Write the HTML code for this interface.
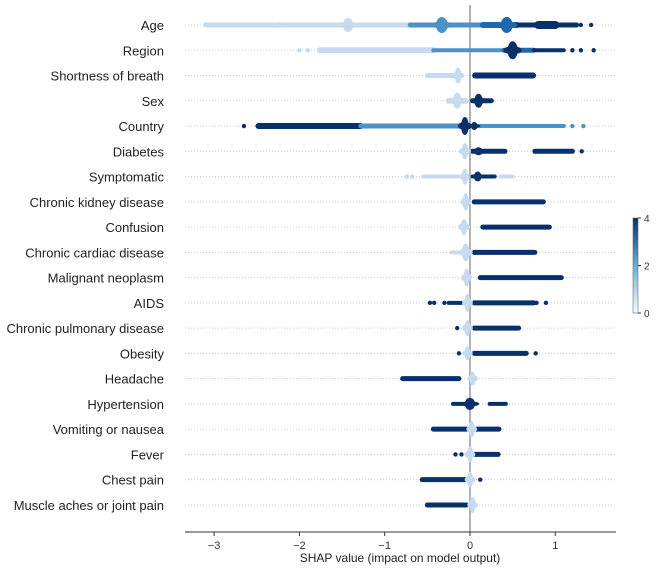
<!DOCTYPE html>
<html><head><meta charset="utf-8"><style>
body{margin:0;background:#fff}
svg{display:block;font-family:"Liberation Sans",sans-serif}
</style></head><body>
<svg id="chart" width="660" height="568" viewBox="0 0 660 568"></svg>
<script>
const features=["Age","Region","Shortness of breath","Sex","Country","Diabetes","Symptomatic","Chronic kidney disease","Confusion","Chronic cardiac disease","Malignant neoplasm","AIDS","Chronic pulmonary disease","Obesity","Headache","Hypertension","Vomiting or nausea","Fever","Chest pain","Muscle aches or joint pain"];
// segments per feature: [start, end, colorIdx, halfThickness]
const segments=[
 [[-3.1,-0.7,0,2.5],[-0.7,0.15,2,2.5],[0.15,0.55,3,3],[0.55,1.25,4,2.5],[0.8,1.0,4,4]],
 [[-1.76,-0.43,0,3],[-0.43,0.41,2,2],[0.4,0.75,3,2.5],[0.75,1.1,4,2]],
 [[-0.5,-0.1,0,2.5],[0.06,0.74,4,3]],
 [[-0.25,-0.05,0,3],[0.03,0.25,4,2.5]],
 [[-2.48,-1.28,4,3],[-1.28,-0.1,2,2.5],[0.05,1.1,2,2]],
 [[0.03,0.41,4,2.5],[0.76,1.2,4,2.5]],
 [[-0.55,-0.06,0,2],[0.03,0.29,4,2],[0.36,0.5,0,2]],
 [[0.05,0.86,4,2.5]],
 [[0.15,0.93,4,2.5]],
 [[-0.22,0,0,2],[0.05,0.76,4,2.5]],
 [[0.12,1.07,4,2.5]],
 [[-0.25,-0.1,4,2],[0.05,0.75,4,2.5]],
 [[0.05,0.57,4,2.5]],
 [[0.05,0.66,4,2.5]],
 [[-0.79,-0.13,4,2.5]],
 [[-0.2,-0.05,4,2],[0.23,0.42,4,2]],
 [[-0.43,-0.04,4,2.5],[0.06,0.34,4,2.5]],
 [[0.05,0.33,4,2.5]],
 [[-0.56,-0.06,4,2.5]],
 [[-0.5,-0.04,4,2.5]]
];
// blobs per feature: [center, halfHeight, halfWidthShap, colorIdx]
const blobs=[
 [[-2.23,3,0.04,0],[-1.43,7,0.06,0],[-0.33,8,0.07,2],[0.43,8,0.07,3]],
 [[0.5,9,0.06,4]],
 [[-0.14,8,0.04,0]],
 [[-0.15,8,0.05,0],[0.1,7,0.05,4]],
 [[-0.06,9,0.045,4],[0.05,4,0.04,4]],
 [[-0.06,8,0.04,0],[0.1,4,0.05,4]],
 [[-0.06,8,0.035,0],[0.09,5,0.045,4]],
 [[-0.05,9,0.035,0]],
 [[-0.07,8,0.04,0]],
 [[-0.05,9,0.045,0]],
 [[-0.04,9,0.035,0]],
 [[-0.03,9,0.035,0]],
 [[-0.03,8,0.035,0]],
 [[-0.03,7,0.035,0]],
 [[0.03,7,0.035,0]],
 [[-0.03,7,0.03,0],[0.0,6,0.06,4]],
 [[0.02,8,0.035,0]],
 [[0.0,8,0.035,0]],
 [[0.0,8,0.035,0]],
 [[0.03,8,0.035,0]]
];
// isolated dots per feature: [value, colorIdx]
const dots=[
 [[-3.1,0],[1.3,4],[1.42,4]],
 [[-2.0,0],[-1.9,0],[1.2,4],[1.3,4],[1.45,4]],
 [],[],
 [[-2.65,4],[1.2,2],[1.33,2]],
 [[1.31,4]],
 [[-0.74,0],[-0.68,0]],
 [],[[0.9,4]],[],[],
 [[-0.47,4],[-0.42,4],[-0.3,4],[0.78,4],[0.89,4]],
 [[-0.15,4]],
 [[-0.13,4],[0.77,4]],
 [],[],[],
 [[-0.17,4],[-0.1,4]],
 [[0.12,4]],
 []
];
const xTicks=[-3,-2,-1,0,1];
const cbTicks=[4,2,0];
const colors=["#c6dbef","#9ecae1","#4a92c8","#1f68ae","#08306b"];
const svg=document.getElementById('chart');
const NS="http://www.w3.org/2000/svg";
const X=v=>470+85.3*v;
const Y=i=>25+i*25.26;
function mk(t,a,p){const e=document.createElementNS(NS,t);for(const k in a)e.setAttribute(k,a[k]);(p||svg).appendChild(e);return e;}
features.forEach((f,i)=>{
 const g=mk('line',{x1:185,x2:615,y1:Y(i),y2:Y(i),stroke:'#ccc','stroke-width':1,'stroke-dasharray':'1,2'});
 
 
 const t=mk('text',{x:164,y:Y(i)+5,'text-anchor':'end','font-size':13,fill:'#222'});
 t.textContent=f;
 
 
});
const zl=mk('line',{x1:X(0),x2:X(0),y1:5,y2:532,stroke:'#999','stroke-width':1.5});


features.forEach((f,i)=>{
 segments[i].forEach(s=>{
  const l=mk('line',{x1:X(s[0]),x2:X(s[1]),y1:Y(i),y2:Y(i),stroke:colors[s[2]],'stroke-width':s[3]*2,'stroke-linecap':'round'});
  
  
 });
 blobs[i].forEach(b=>{
  const e=mk('ellipse',{cx:X(b[0]),cy:Y(i),rx:85.3*b[2],ry:b[1],fill:colors[b[3]]});
  
  
  const e2=mk('ellipse',{cx:X(b[0]),cy:Y(i),rx:85.3*b[2]*1.8,ry:b[1]*0.45,fill:colors[b[3]]});
  
  
 });
 dots[i].forEach(d=>{
  const c=mk('circle',{cx:X(d[0]),cy:Y(i),r:2.2,fill:colors[d[1]]});
  
  
 });
});
const ax=mk('line',{x1:185,x2:616,y1:532,y2:532,stroke:'#333','stroke-width':1});


xTicks.forEach(v=>{
 const tk=mk('line',{x1:X(v),x2:X(v),y1:532,y2:536,stroke:'#333'});
 
 
 const t=mk('text',{x:X(v),y:549,'text-anchor':'middle','font-size':11,fill:'#333'});
 t.textContent=v<0?'\u2212'+Math.abs(v):String(v);
 
 
});
const xt=mk('text',{x:400,y:562,'text-anchor':'middle','font-size':12,fill:'#222'});
xt.textContent='SHAP value (impact on model output)';


const defs=mk('defs',{});
const lg=mk('linearGradient',{id:'cb',x1:0,y1:1,x2:0,y2:0},defs);
mk('stop',{offset:0,'stop-color':'#f7fbff'},lg);
mk('stop',{offset:0.5,'stop-color':'#6baed6'},lg);
mk('stop',{offset:1,'stop-color':'#08306b'},lg);
const cb=mk('rect',{x:633,y:218,width:5,height:95,fill:'url(#cb)',stroke:'#555','stroke-width':0.5});


cbTicks.forEach(v=>{
 const y=313-v/4*95;
 mk('line',{x1:638,x2:641,y1:y,y2:y,stroke:'#333'});
 const t=mk('text',{x:644,y:y+4,'font-size':10,fill:'#333'});
 t.textContent=String(v);
 
 
});
</script>
</body></html>
